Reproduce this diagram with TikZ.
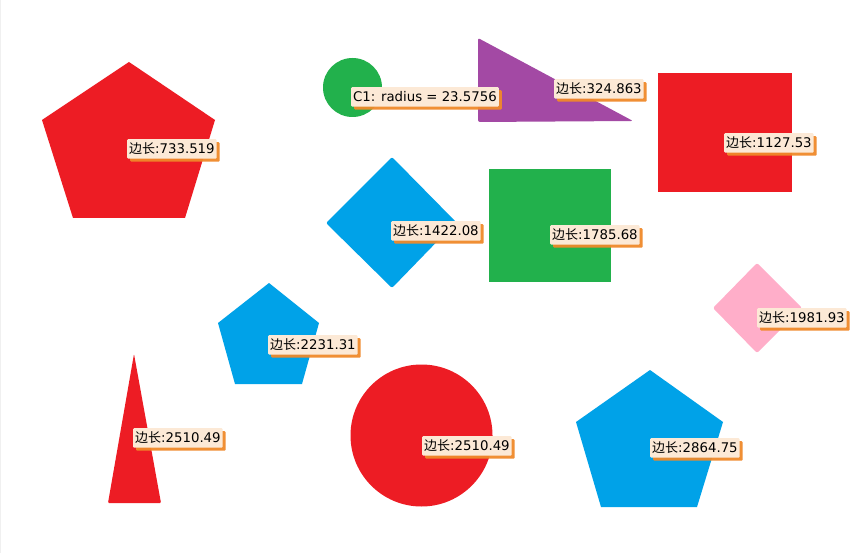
\documentclass[tikz,border=0pt]{standalone}
\usepackage{fontspec}
\newfontfamily\cjk{Noto Sans CJK SC}
\newfontfamily\lat{DejaVu Sans}
\usetikzlibrary{shadows}
\definecolor{cred}{HTML}{ED1C24}
\definecolor{cgreen}{HTML}{22B14C}
\definecolor{cblue}{HTML}{00A2E8}
\definecolor{cpurple}{HTML}{A349A4}
\definecolor{cpink}{HTML}{FFAEC9}
\definecolor{lblfill}{HTML}{FCE9D6}
\definecolor{lblshadow}{HTML}{F0892A}
\newcommand{\bc}{{\cjk\fontsize{13}{15}\selectfont 边长}}
\tikzset{
  solidshape/.style={line join=round},
  lbl/.style={anchor=north west, fill=lblfill, inner xsep=2pt, inner ysep=0pt,
    minimum height=19.5pt, text=black, font=\lat\fontsize{13.3}{15}\selectfont,
    rounded corners=1pt,
    drop shadow={shadow xshift=3pt, shadow yshift=-3pt, fill=lblshadow, opacity=0.95}}
}
\begin{document}
\begin{tikzpicture}[x=1pt,y=-1pt]
\useasboundingbox (0,0) rectangle (853,553);
\fill[white] (0,0) rectangle (853,553);
\draw[black!6, line width=1pt] (0.5,0) -- (0.5,553);
% shapes
\fill[cred, solidshape] (129,62) -- (215,120) -- (185,218) -- (73,218) -- (42,120) -- cycle;
\fill[cgreen] (352.5,87.5) circle[radius=29.5];
\fill[cpurple, solidshape, rounded corners=2pt] (478,38) -- (633,121) -- (478,122) -- cycle;
\fill[cred] (658,73) rectangle (792,192);
\fill[cblue, solidshape, rounded corners=2pt] (392,157) -- (456,222) -- (392,288) -- (326,223) -- cycle;
\fill[cgreen] (489,169) rectangle (611,282);
\fill[cpink, solidshape, rounded corners=2pt] (757,263) -- (802,308) -- (757,353) -- (713,308) -- cycle;
\fill[cblue, solidshape] (269,283) -- (319,323) -- (302,384) -- (235,384) -- (218,323) -- cycle;
\fill[cred, solidshape, rounded corners=1pt] (134,354) -- (161,503) -- (108,503) -- cycle;
\fill[cred] (421.5,435.5) circle[radius=71];
\fill[cblue, solidshape] (650,370) -- (723,422) -- (697,507) -- (601,507) -- (576,422) -- cycle;
% labels
\node[lbl] (l1) at (127,139) {\bc:733.519};
\node[lbl] (l2) at (351,87) {C1: radius = 23.5756};
\node[lbl] (l3) at (554,79) {\bc:324.863};
\node[lbl] (l4) at (724,133) {\bc:1127.53};
\node[lbl] (l5) at (391,221) {\bc:1422.08};
\node[lbl] (l6) at (550,225) {\bc:1785.68};
\node[lbl] (l7) at (757,308) {\bc:1981.93};
\node[lbl] (l8) at (268,335) {\bc:2231.31};
\node[lbl] (l9) at (133,428) {\bc:2510.49};
\node[lbl] (l10) at (422,436) {\bc:2510.49};
\node[lbl] (l11) at (650,438) {\bc:2864.75};
\end{tikzpicture}
\end{document}
